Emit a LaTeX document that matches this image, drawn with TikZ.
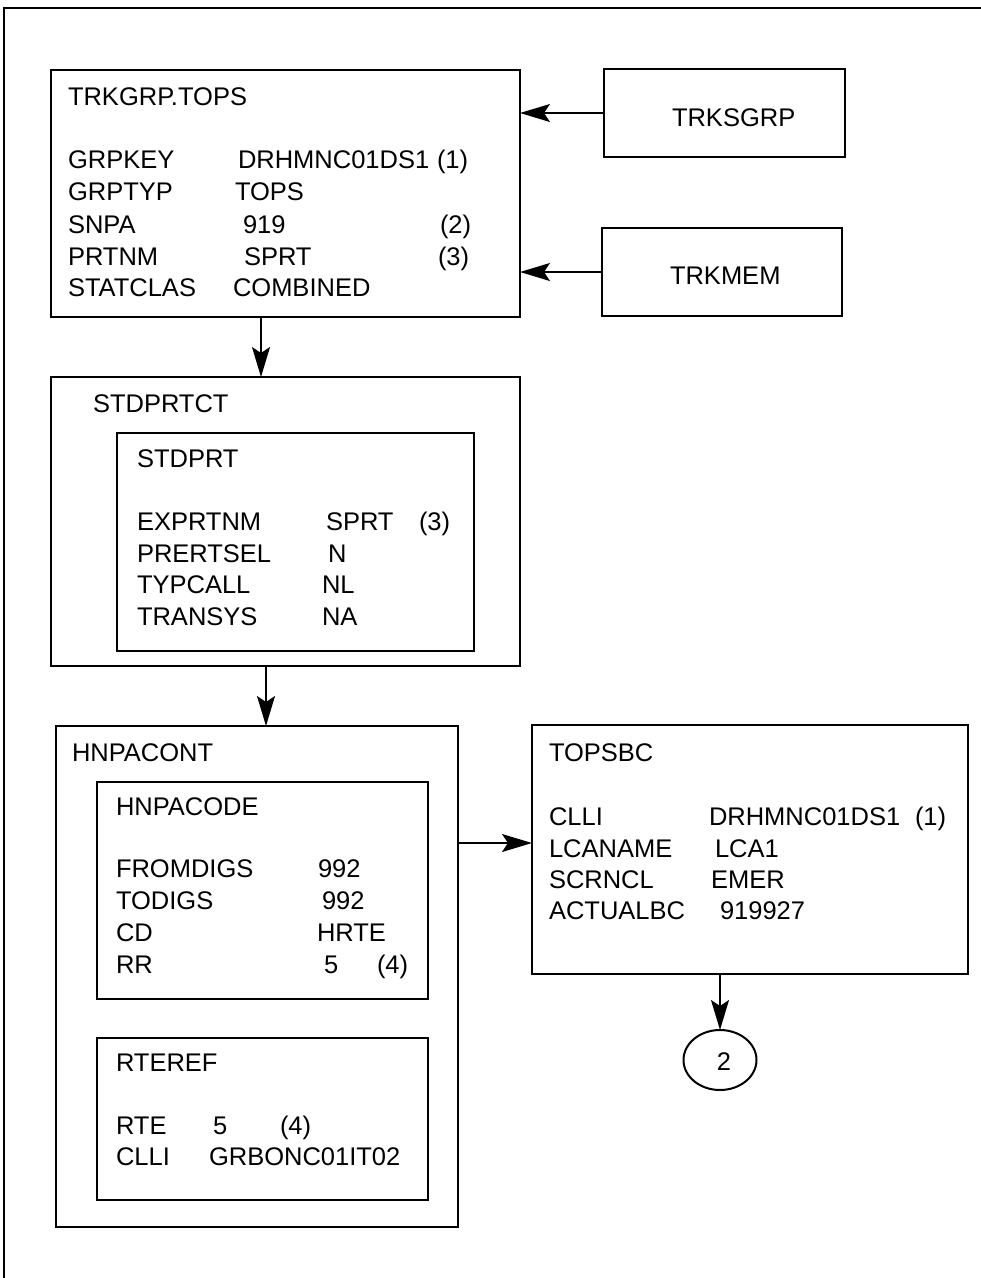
\documentclass[tikz,border=0pt]{standalone}
\usepackage{fontspec}
\setmainfont{Liberation Sans}
\usetikzlibrary{arrows.meta,shapes.geometric}
\tikzset{
  box/.style={draw, line width=2pt, inner sep=0pt, outer sep=0pt, anchor=north west},
  txt/.style={anchor=base west, inner sep=0pt, outer sep=0pt, font=\fontsize{25.5}{30}\selectfont},
  arr/.style={line width=1.6pt, -{Stealth[length=30pt,width=18pt,inset=6pt]}}
}
\begin{document}
\begin{tikzpicture}[x=1pt,y=-1pt]
\useasboundingbox (0,0) rectangle (981,1278);
% frame
\coordinate (fa) at (981,8);
\coordinate (fb) at (4,8);
\coordinate (fc) at (4,1278);
\draw[line width=1.8pt] (fa) -- (fb) -- (fc);

% boxes
\node[box, minimum width=469pt, minimum height=247pt] (b1) at (51,70) {};
\node[box, minimum width=241pt, minimum height=88pt] (trksgrp) at (604,69) {};
\node[box, minimum width=240pt, minimum height=88pt] (trkmem) at (602,228) {};
\node[box, minimum width=469pt, minimum height=289pt] (b2) at (51,377) {};
\node[box, minimum width=357pt, minimum height=218pt] (stdprt) at (117,433) {};
\node[box, minimum width=402pt, minimum height=501pt] (b3) at (56,726) {};
\node[box, minimum width=331pt, minimum height=217pt] (hnpacode) at (97,782) {};
\node[box, minimum width=331pt, minimum height=162pt] (rteref) at (97,1038) {};
\node[box, minimum width=436pt, minimum height=249pt] (topsbc) at (532,725) {};
\node[draw, line width=2pt, ellipse, minimum width=73pt, minimum height=60pt, inner sep=0pt, outer sep=0pt] (ell) at (720,1060) {};

% TRKGRP.TOPS
\node[txt] (t1) at (68,105) {TRKGRP.TOPS};
\node[txt] (t2) at (68,168) {GRPKEY};
\node[txt] (t3) at (238,168) {DRHMNC01DS1};
\node[txt] (t4) at (437,168) {(1)};
\node[txt] (t5) at (68,200) {GRPTYP};
\node[txt] (t6) at (235,200) {TOPS};
\node[txt] (t7) at (68,233) {SNPA};
\node[txt] (t8) at (243,233) {919};
\node[txt] (t9) at (440,233) {(2)};
\node[txt] (t10) at (68,265) {PRTNM};
\node[txt] (t11) at (244,265) {SPRT};
\node[txt] (t12) at (438,265) {(3)};
\node[txt] (t13) at (68,296) {STATCLAS};
\node[txt] (t14) at (233,296) {COMBINED};

\node[txt] (t15) at (672,126) {TRKSGRP};
\node[txt] (t16) at (670,284) {TRKMEM};

% STDPRTCT
\node[txt] (t17) at (93,412) {STDPRTCT};
\node[txt] (t18) at (137,467) {STDPRT};
\node[txt] (t19) at (137,530) {EXPRTNM};
\node[txt] (t20) at (326,530) {SPRT};
\node[txt] (t21) at (419,530) {(3)};
\node[txt] (t22) at (137,562) {PRERTSEL};
\node[txt] (t23) at (328,562) {N};
\node[txt] (t24) at (137,593) {TYPCALL};
\node[txt] (t25) at (322,593) {NL};
\node[txt] (t26) at (137,625) {TRANSYS};
\node[txt] (t27) at (322,625) {NA};

% HNPACONT
\node[txt] (t28) at (72,761) {HNPACONT};
\node[txt] (t29) at (116,815) {HNPACODE};
\node[txt] (t30) at (116,877) {FROMDIGS};
\node[txt] (t31) at (318,877) {992};
\node[txt] (t32) at (116,909) {TODIGS};
\node[txt] (t33) at (322,909) {992};
\node[txt] (t34) at (116,941) {CD};
\node[txt] (t35) at (317,941) {HRTE};
\node[txt] (t36) at (116,973) {RR};
\node[txt] (t37) at (324,973) {5};
\node[txt] (t38) at (377,973) {(4)};
\node[txt] (t39) at (116,1071) {RTEREF};
\node[txt] (t40) at (116,1134) {RTE};
\node[txt] (t41) at (213,1134) {5};
\node[txt] (t42) at (280,1134) {(4)};
\node[txt] (t43) at (116,1165) {CLLI};
\node[txt] (t44) at (209,1165) {GRBONC01IT02};

% TOPSBC
\node[txt] (t45) at (549,761) {TOPSBC};
\node[txt] (t46) at (549,825) {CLLI};
\node[txt] (t47) at (709,825) {DRHMNC01DS1};
\node[txt] (t48) at (915,825) {(1)};
\node[txt] (t49) at (549,857) {LCANAME};
\node[txt] (t50) at (715,857) {LCA1};
\node[txt] (t51) at (549,888) {SCRNCL};
\node[txt] (t52) at (711,888) {EMER};
\node[txt] (t53) at (549,919) {ACTUALBC};
\node[txt] (t54) at (720,919) {919927};

\node[font=\fontsize{25.5}{30}\selectfont, inner sep=0pt] (t55) at (724,1062) {2};

% connectors
\coordinate (x1) at (261,0);
\coordinate (x2) at (266,0);
\coordinate (y1) at (0,843);
\draw[arr] (trksgrp.west) -- (b1.east |- trksgrp.west);
\draw[arr] (trkmem.west) -- (b1.east |- trkmem.west);
\draw[arr] (b1.south -| x1) -- (b2.north -| x1);
\draw[arr] (b2.south -| x2) -- (b3.north -| x2);
\draw[arr] (b3.east |- y1) -- (topsbc.west |- y1);
\draw[arr] (topsbc.south -| ell.north) -- (ell.north);
\end{tikzpicture}
\end{document}
